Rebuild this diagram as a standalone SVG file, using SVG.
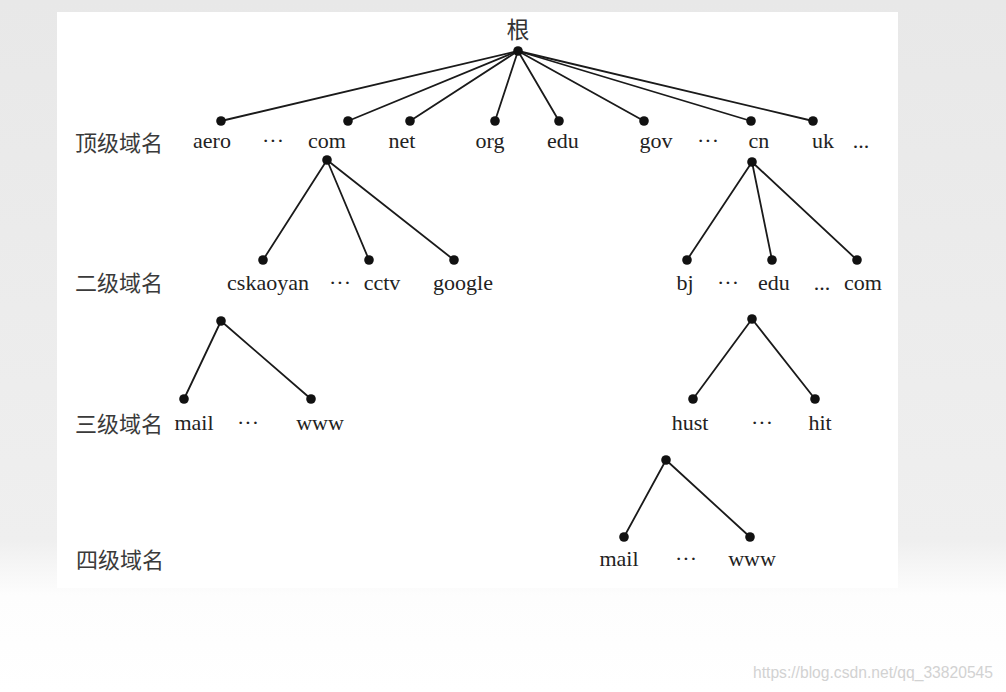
<svg xmlns="http://www.w3.org/2000/svg" width="1006" height="692" viewBox="0 0 1006 692">
  <defs>
    <linearGradient id="bg" x1="0" y1="0" x2="0" y2="1">
      <stop offset="0" stop-color="#e8e8e8"/>
      <stop offset="0.78" stop-color="#efefef"/>
      <stop offset="0.86" stop-color="#fdfdfd"/>
      <stop offset="1" stop-color="#ffffff"/>
    </linearGradient>
    <style>
      .edge { stroke: #1a1a1a; stroke-width: 1.8; fill: none; stroke-linecap: round; }
      .dot { fill: #111; }
      .lbl { font-family: "Liberation Serif", "Times New Roman", serif; font-size: 22px; fill: #222; text-anchor: middle; }
      .lvl { font-family: "Noto Sans CJK SC", "Noto Sans", sans-serif; font-size: 22px; fill: #3a3a3a; }
      .root { font-family: "Noto Sans CJK SC", sans-serif; font-size: 23px; fill: #333; text-anchor: middle; }
      .wm { font-family: "Liberation Sans", Arial, sans-serif; font-size: 16px; fill: #d2d2d2; }
    </style>
  </defs>

  <rect x="0" y="0" width="1006" height="692" fill="url(#bg)"/>
  <rect x="57" y="12" width="841" height="576" fill="#ffffff"/>

  <g id="level-labels">
    <text class="lvl" x="75" y="151">顶级域名</text>
    <text class="lvl" x="75" y="291">二级域名</text>
    <text class="lvl" x="75" y="432">三级域名</text>
    <text class="lvl" x="76" y="568">四级域名</text>
  </g>

  <g id="connectors">
    <line class="edge" x1="518" y1="51" x2="221" y2="121"/>
    <line class="edge" x1="518" y1="51" x2="348" y2="121"/>
    <line class="edge" x1="518" y1="51" x2="410" y2="121"/>
    <line class="edge" x1="518" y1="51" x2="495" y2="121"/>
    <line class="edge" x1="518" y1="51" x2="559" y2="121"/>
    <line class="edge" x1="518" y1="51" x2="644" y2="121"/>
    <line class="edge" x1="518" y1="51" x2="751" y2="121"/>
    <line class="edge" x1="518" y1="51" x2="813" y2="121"/>
    <line class="edge" x1="327" y1="160" x2="263" y2="260"/>
    <line class="edge" x1="327" y1="160" x2="369" y2="260"/>
    <line class="edge" x1="327" y1="160" x2="454" y2="260"/>
    <line class="edge" x1="752" y1="162" x2="687" y2="260"/>
    <line class="edge" x1="752" y1="162" x2="772" y2="260"/>
    <line class="edge" x1="752" y1="162" x2="857" y2="260"/>
    <line class="edge" x1="221" y1="321" x2="184" y2="399"/>
    <line class="edge" x1="221" y1="321" x2="311" y2="399"/>
    <line class="edge" x1="752" y1="319" x2="693" y2="399"/>
    <line class="edge" x1="752" y1="319" x2="815" y2="399"/>
    <line class="edge" x1="666" y1="460" x2="624" y2="537"/>
    <line class="edge" x1="666" y1="460" x2="750" y2="537"/>
  </g>

  <g id="node-root">
    <text class="root" x="518" y="38">根</text>
    <circle class="dot" cx="518" cy="51" r="4.8"/>
  </g>

  <g id="node-aero"><circle class="dot" cx="221" cy="121" r="4.8"/><text class="lbl" x="212" y="148">aero</text></g>
  <g id="gap-top-1"><text class="lbl" x="273" y="148">···</text></g>
  <g id="node-com">
    <circle class="dot" cx="348" cy="121" r="4.8"/><text class="lbl" x="327" y="148">com</text>
    <circle class="dot" cx="327" cy="160" r="4.8"/>
  </g>
  <g id="node-net"><circle class="dot" cx="410" cy="121" r="4.8"/><text class="lbl" x="402" y="148">net</text></g>
  <g id="node-org"><circle class="dot" cx="495" cy="121" r="4.8"/><text class="lbl" x="490" y="148">org</text></g>
  <g id="node-edu"><circle class="dot" cx="559" cy="121" r="4.8"/><text class="lbl" x="563" y="148">edu</text></g>
  <g id="node-gov"><circle class="dot" cx="644" cy="121" r="4.8"/><text class="lbl" x="656" y="148">gov</text></g>
  <g id="gap-top-2"><text class="lbl" x="708" y="148">···</text></g>
  <g id="node-cn">
    <circle class="dot" cx="751" cy="121" r="4.8"/><text class="lbl" x="759" y="148">cn</text>
    <circle class="dot" cx="752" cy="162" r="4.8"/>
  </g>
  <g id="node-uk"><circle class="dot" cx="813" cy="121" r="4.8"/><text class="lbl" x="823" y="148">uk</text></g>
  <g id="gap-top-3"><text class="lbl" x="861" y="148">...</text></g>

  <g id="node-cskaoyan">
    <circle class="dot" cx="263" cy="260" r="4.8"/><text class="lbl" x="268" y="290">cskaoyan</text>
    <circle class="dot" cx="221" cy="321" r="4.8"/>
  </g>
  <g id="gap-l2-1"><text class="lbl" x="340" y="290">···</text></g>
  <g id="node-cctv"><circle class="dot" cx="369" cy="260" r="4.8"/><text class="lbl" x="382" y="290">cctv</text></g>
  <g id="node-google"><circle class="dot" cx="454" cy="260" r="4.8"/><text class="lbl" x="463" y="290">google</text></g>

  <g id="node-bj"><circle class="dot" cx="687" cy="260" r="4.8"/><text class="lbl" x="685" y="290">bj</text></g>
  <g id="gap-l2-2"><text class="lbl" x="728" y="290">···</text></g>
  <g id="node-cn-edu">
    <circle class="dot" cx="772" cy="260" r="4.8"/><text class="lbl" x="774" y="290">edu</text>
    <circle class="dot" cx="752" cy="319" r="4.8"/>
  </g>
  <g id="gap-l2-3"><text class="lbl" x="822" y="290">...</text></g>
  <g id="node-cn-com"><circle class="dot" cx="857" cy="260" r="4.8"/><text class="lbl" x="863" y="290">com</text></g>

  <g id="node-mail-3"><circle class="dot" cx="184" cy="399" r="4.8"/><text class="lbl" x="194" y="430">mail</text></g>
  <g id="gap-l3-1"><text class="lbl" x="248" y="430">···</text></g>
  <g id="node-www-3"><circle class="dot" cx="311" cy="399" r="4.8"/><text class="lbl" x="320" y="430">www</text></g>

  <g id="node-hust">
    <circle class="dot" cx="693" cy="399" r="4.8"/><text class="lbl" x="690" y="430">hust</text>
    <circle class="dot" cx="666" cy="460" r="4.8"/>
  </g>
  <g id="gap-l3-2"><text class="lbl" x="762" y="430">···</text></g>
  <g id="node-hit"><circle class="dot" cx="815" cy="399" r="4.8"/><text class="lbl" x="820" y="430">hit</text></g>

  <g id="node-mail-4"><circle class="dot" cx="624" cy="537" r="4.8"/><text class="lbl" x="619" y="566">mail</text></g>
  <g id="gap-l4-1"><text class="lbl" x="686" y="566">···</text></g>
  <g id="node-www-4"><circle class="dot" cx="750" cy="537" r="4.8"/><text class="lbl" x="752" y="566">www</text></g>

  <text class="wm" x="753" y="678" textLength="240" lengthAdjust="spacingAndGlyphs">https://blog.csdn.net/qq_33820545</text>
</svg>
